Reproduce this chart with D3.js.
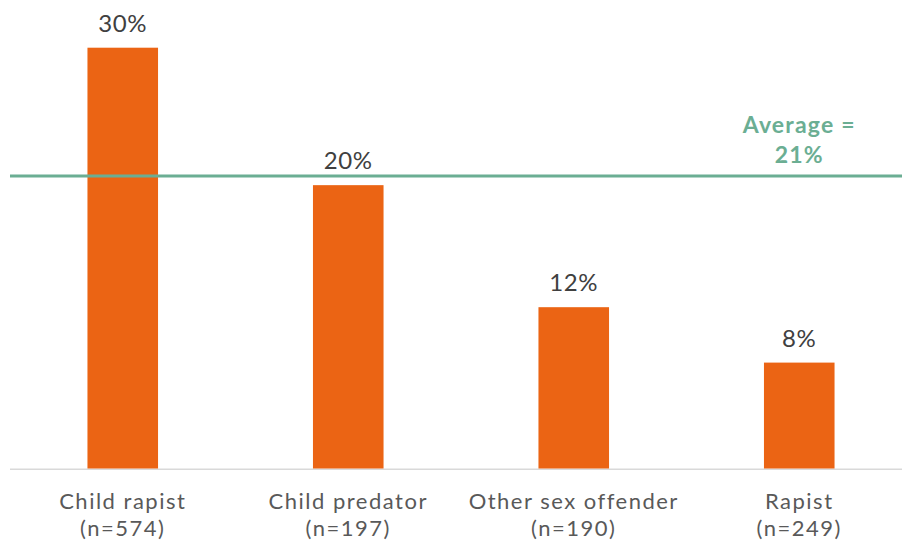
<!DOCTYPE html>
<html><head><meta charset="utf-8">
<script src="https://cdn.jsdelivr.net/npm/d3@7"></script>
<style>
html,body{margin:0;padding:0;background:#fff;}
svg{display:block;}
</style></head>
<body>
<svg id="chart" width="902" height="544"></svg>
<script>
const categories = ["Child rapist", "Child predator", "Other sex offender", "Rapist"];
const sampleSizes = ["(n=574)", "(n=197)", "(n=190)", "(n=249)"];
const values = [30.0, 20.2, 11.5, 7.55];
const average = 20.85;
const averageLabel = ["Average =", "21%"];

const svg = d3.select("#chart");
const W = 902, H = 544;
const x = d3.scaleBand().domain(categories).range([10, 912]).paddingInner(0.687).paddingOuter(0.3435);
const y = d3.scaleLinear().domain([0, 30]).range([468.5, 47.7]);

const orange = "#EB6414", green = "#6BAE93";

// baseline
svg.append("line").attr("x1", 10).attr("x2", W).attr("y1", y(0) + 0.8).attr("y2", y(0) + 0.8)
  .attr("stroke", "#d9d9d9").attr("stroke-width", 1.5);

// bars
svg.selectAll("rect.bar").data(values).join("rect").attr("class", "bar")
  .attr("x", (d, i) => x(categories[i]))
  .attr("width", x.bandwidth())
  .attr("y", d => y(d))
  .attr("height", d => y(0) - y(d))
  .attr("fill", orange);

// value labels
svg.selectAll("text.val").data(values).join("text").attr("class", "val")
  .attr("x", (d, i) => x(categories[i]) + x.bandwidth() / 2)
  .attr("y", d => y(d) - 16)
  .attr("text-anchor", "middle")
  .attr("font-family", "Lato, sans-serif").attr("font-size", 24)
  .attr("letter-spacing", 0.6)
  .attr("fill", "#404040")
  .text(d => Math.round(d) + "%");

// average line
svg.append("line").attr("x1", 10).attr("x2", W).attr("y1", y(average)).attr("y2", y(average))
  .attr("stroke", green).attr("stroke-width", 3);

const avgX = x(categories[3]) + x.bandwidth() / 2;
svg.selectAll("text.avg").data(averageLabel).join("text").attr("class", "avg")
  .attr("x", avgX)
  .attr("y", (d, i) => y(average) - 43 + i * 30)
  .attr("text-anchor", "middle")
  .attr("font-family", "Lato, sans-serif").attr("font-weight", "bold").attr("font-size", 23)
  .attr("letter-spacing", 1.2)
  .attr("fill", green)
  .text(d => d);

// category labels
const g = svg.selectAll("g.cat").data(categories).join("g").attr("class", "cat");
g.append("text")
  .attr("x", d => x(d) + x.bandwidth() / 2).attr("y", 509)
  .attr("text-anchor", "middle")
  .attr("font-family", "Lato, sans-serif").attr("font-size", 22)
  .attr("letter-spacing", 1.5).attr("fill", "#595959")
  .text(d => d);
g.append("text")
  .attr("x", d => x(d) + x.bandwidth() / 2).attr("y", 536)
  .attr("text-anchor", "middle")
  .attr("font-family", "Lato, sans-serif").attr("font-size", 22)
  .attr("letter-spacing", 1.5).attr("fill", "#595959")
  .text((d, i) => sampleSizes[i]);
</script>
</body></html>
